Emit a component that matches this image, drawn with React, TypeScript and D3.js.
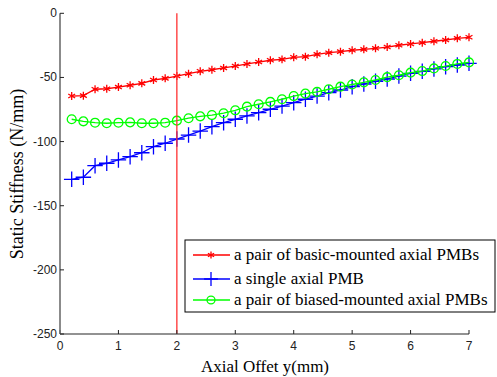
import React, { useEffect, useRef } from 'react';
import * as d3 from 'd3';

const offsets = d3.range(1, 36).map(i => +(i * 0.2).toFixed(1));

const basicPair = [-64.5, -64.2, -59.2, -58.8, -57.5, -56.1, -54.6, -52, -50.7, -48.9,
  -47.1, -45.2, -44, -42.6, -41.1, -39.5, -38, -36.6, -35.9, -34.3,
  -33.8, -32, -30.7, -29.9, -28.8, -28.1, -27.3, -26.3, -24.9, -23.9,
  -22.9, -21.8, -20.8, -19.5, -18.7];

const single = [-129.4, -127.8, -118.8, -116.9, -114.3, -111.8, -108.7, -104, -101.3, -98,
  -94.9, -91.8, -88.4, -85.3, -82.6, -80, -77.5, -74.8, -72.3, -69.7,
  -67, -64.5, -61.9, -59.8, -57.2, -55.1, -53, -51.2, -48.9, -46.8,
  -45.2, -43.4, -41.6, -40.3, -39];

const biasedPair = [-82.6, -84.2, -85.3, -85.7, -85.3, -85, -85.7, -85.7, -85.3, -83.7,
  -81.8, -80.3, -79.3, -77.9, -75.6, -72.8, -70.9, -69.1, -67, -64.5,
  -62.6, -61.3, -59.2, -57.2, -55.5, -53.8, -52, -49.8, -48.3, -46.3,
  -45, -43, -41.1, -39.5, -38.3];

const xTicks = [0, 1, 2, 3, 4, 5, 6, 7];
const yTicks = [0, -50, -100, -150, -200, -250];

const seriesNames = [
  'a pair of basic-mounted axial PMBs',
  'a single axial PMB',
  'a pair of biased-mounted axial PMBs',
];

export default function App() {
  const ref = useRef<SVGSVGElement>(null);

  useEffect(() => {
    const svg = d3.select(ref.current);
    svg.selectAll('*').remove();

    const x = d3.scaleLinear().domain([0, 7]).range([60, 469]);
    const y = d3.scaleLinear().domain([-250, 0]).range([334, 13.3]);

    const sans = 'Arial, "Liberation Sans", sans-serif';
    const serif = '"Times New Roman", "Liberation Serif", serif';
    const axisColor = '#6e6e6e';

    const series = [
      { name: seriesNames[0], values: basicPair, color: '#ff0000', symbol: d3.symbolAsterisk, size: 44 },
      { name: seriesNames[1], values: single, color: '#0000ff', symbol: d3.symbolPlus, size: 80 },
      { name: seriesNames[2], values: biasedPair, color: '#00ff00', symbol: d3.symbolCircle, size: 62 },
    ];

    const line = d3.line<number>()
      .x((_, i) => x(offsets[i]))
      .y(d => y(d));

    series.forEach(s => {
      svg.append('path')
        .attr('d', line(s.values))
        .attr('fill', 'none')
        .attr('stroke', s.color)
        .attr('stroke-width', 1.3);
      svg.selectAll(null)
        .data(s.values)
        .enter()
        .append('path')
        .attr('d', d3.symbol().type(s.symbol).size(s.size)())
        .attr('transform', (d, i) => 'translate(' + x(offsets[i]) + ',' + y(d) + ')')
        .attr('fill', 'none')
        .attr('stroke', s.color)
        .attr('stroke-width', 1.3);
    });

    // vertical marker at y = 2 mm
    svg.append('line')
      .attr('x1', x(2)).attr('x2', x(2))
      .attr('y1', y(0)).attr('y2', y(-250))
      .attr('stroke', '#ff3030')
      .attr('stroke-width', 1.3);

    // axes
    const xAxis = svg.append('g');
    xAxis.append('line')
      .attr('x1', x(0)).attr('x2', x(7))
      .attr('y1', y(-250)).attr('y2', y(-250))
      .attr('stroke', axisColor).attr('stroke-width', 1.6);
    xTicks.forEach(t => {
      xAxis.append('line')
        .attr('x1', x(t)).attr('x2', x(t))
        .attr('y1', y(-250)).attr('y2', y(-250) - 4)
        .attr('stroke', '#222').attr('stroke-width', 1);
      xAxis.append('text')
        .attr('x', x(t)).attr('y', y(-250) + 16)
        .attr('text-anchor', 'middle')
        .style('font-family', sans).style('font-size', '12px')
        .attr('fill', '#222')
        .text(t);
    });

    const yAxis = svg.append('g');
    yAxis.append('line')
      .attr('x1', x(0)).attr('x2', x(0))
      .attr('y1', y(0)).attr('y2', y(-250))
      .attr('stroke', axisColor).attr('stroke-width', 1.6);
    yTicks.forEach(t => {
      yAxis.append('line')
        .attr('x1', x(0)).attr('x2', x(0) + 4)
        .attr('y1', y(t)).attr('y2', y(t))
        .attr('stroke', '#222').attr('stroke-width', 1);
      yAxis.append('text')
        .attr('x', x(0) - 3).attr('y', y(t) + 4)
        .attr('text-anchor', 'end')
        .style('font-family', sans).style('font-size', '12px')
        .attr('fill', '#222')
        .text(t);
    });

    svg.append('text')
      .attr('x', 265).attr('y', 372)
      .attr('text-anchor', 'middle')
      .style('font-family', serif).style('font-size', '17px')
      .text('Axial Offet y(mm)');

    svg.append('text')
      .attr('transform', 'translate(23,174) rotate(-90)')
      .attr('text-anchor', 'middle')
      .style('font-family', serif).style('font-size', '18px')
      .text('Static Stiffness (N/mm)');

    // legend
    const legend = svg.append('g');
    legend.append('rect')
      .attr('x', 185).attr('y', 240)
      .attr('width', 310).attr('height', 72)
      .attr('fill', '#fff')
      .attr('stroke', '#000').attr('stroke-width', 1);
    const rows = [255, 279, 300];
    series.forEach((s, i) => {
      legend.append('line')
        .attr('x1', 193).attr('x2', 230)
        .attr('y1', rows[i]).attr('y2', rows[i])
        .attr('stroke', s.color).attr('stroke-width', 1.3);
      legend.append('path')
        .attr('d', d3.symbol().type(s.symbol).size(s.size * 0.8)())
        .attr('transform', 'translate(211,' + rows[i] + ')')
        .attr('fill', 'none')
        .attr('stroke', s.color).attr('stroke-width', 1.3);
      legend.append('text')
        .attr('x', 234).attr('y', rows[i] + 5)
        .style('font-family', serif).style('font-size', '17px')
        .text(s.name);
    });
  }, []);

  return (
    <svg ref={ref} width={497} height={377}
      style={{ position: 'absolute', left: 0, top: 0, background: '#fff' }} />
  );
}
